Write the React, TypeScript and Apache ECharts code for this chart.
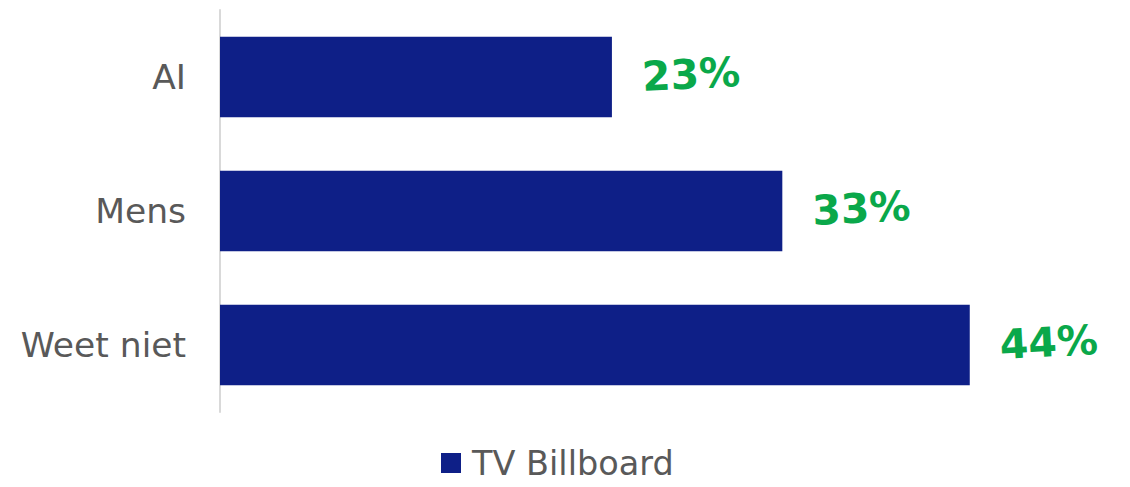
import React, { useEffect, useRef } from "react";
import * as echarts from "echarts";

const categories = ["Weet niet", "Mens", "AI"];
const values = [44, 33, 23];
const seriesName = "TV Billboard";

export default function App() {
  const ref = useRef<HTMLDivElement>(null);
  useEffect(() => {
    const chart = echarts.init(ref.current!, null, { renderer: "svg" });
    chart.setOption({
      animation: false,
      backgroundColor: "#ffffff",
      grid: { left: 220, right: 58, top: 10, bottom: 75, containLabel: false },
      legend: {
        data: [seriesName],
        top: 446,
        left: 441,
        padding: 0,
        icon: "rect",
        itemWidth: 20,
        itemHeight: 20,
        itemGap: 10,
        textStyle: {
          fontSize: 33.5,
          color: "#595959",
          fontFamily: "DejaVu Sans",
          padding: [0, 0, 0, 6],
        },
      },
      xAxis: {
        type: "value",
        min: 0,
        max: 50,
        show: false,
      },
      yAxis: {
        type: "category",
        data: categories,
        axisLine: { show: true, lineStyle: { color: "#d9d9d9", width: 2 } },
        axisTick: { show: false },
        axisLabel: { fontSize: 34.5, color: "#595959", margin: 34, fontFamily: "DejaVu Sans" },
      },
      series: [
        {
          name: seriesName,
          type: "bar",
          data: values,
          barCategoryGap: "40%",
          itemStyle: { color: "#0e1f87" },
          label: {
            show: true,
            position: "right",
            distance: 30,
            formatter: "{c}%",
            fontSize: 41,
            fontWeight: "bold",
            rotate: 3,
            color: "#0aa84a",
            fontFamily: "DejaVu Sans",
          },
        },
      ],
    });
    return () => chart.dispose();
  }, []);
  return (
    <div
      ref={ref}
      style={{ position: "absolute", left: 0, top: 0, width: 1130, height: 487 }}
    />
  );
}
